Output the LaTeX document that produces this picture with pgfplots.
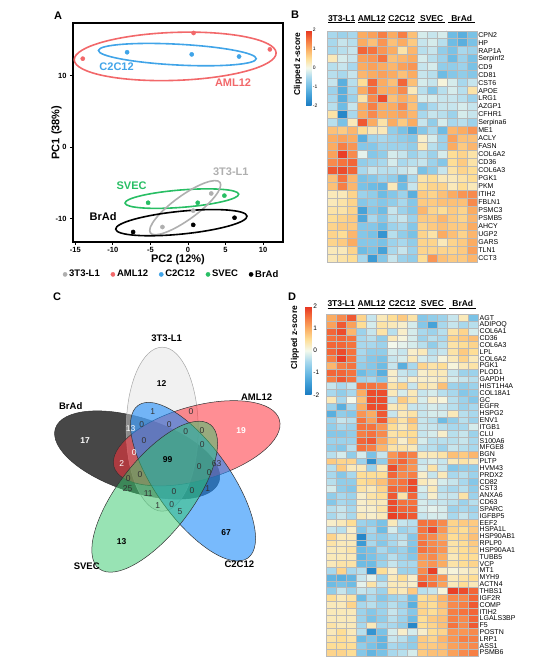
\documentclass[border=0pt]{standalone}
\usepackage{fontspec}
\setmainfont{Liberation Sans}
\usepackage{pgfplots}
\usepackage{pgfplotstable}
\pgfplotsset{compat=1.18}
\definecolor{cgrey}{RGB}{175,175,175}
\definecolor{cred}{RGB}{242,104,106}
\definecolor{cblue}{RGB}{64,164,232}
\definecolor{cgreen}{RGB}{40,190,100}
\pgfplotsset{
  /pgf/number format/assume math mode=true,
  hmap/.style={colormap={hm}{rgb255=(25,122,192) rgb255=(60,155,213) rgb255=(110,188,228) rgb255=(168,216,237) rgb255=(244,249,236) rgb255=(254,222,150) rgb255=(251,172,98) rgb255=(245,115,62) rgb255=(230,50,32)}, point meta min=-2, point meta max=2},
}
\pgfplotstableread{
g c0 c1 c2 c3 c4 c5 c6 c7 c8 c9 c10 c11 c12 c13 c14
CPN2 -0.5 -0.6 -0.5 1.0 1.1 1.4 1.0 1.4 0.8 -0.2 -0.3 -0.2 -1.0 -1.2 -0.9
HP -0.5 -0.3 -0.4 1.0 0.8 1.2 0.8 1.0 0.7 -0.3 -0.2 -0.4 -1.0 -1.2 -0.9
RAP1A -0.5 -0.4 -0.3 1.6 1.5 1.2 1.0 0.4 0.9 -0.4 -0.3 -0.7 -0.9 -0.5 -0.6
Serpinf2 0.3 -0.2 -0.3 1.1 1.2 1.5 0.8 0.9 1.0 -0.2 -0.4 -0.6 -1.0 -0.6 -0.9
CD9 -0.4 -0.3 -0.5 1.0 1.1 1.0 0.9 1.1 1.2 -0.3 -0.2 -0.7 -0.7 -0.6 -0.9
CD81 -0.4 -0.5 -0.3 0.9 1.0 1.1 1.0 0.8 1.0 -0.3 -0.4 -1.0 -0.8 -0.7 -0.8
CST6 -0.3 -1.2 -0.4 0.5 1.6 1.0 0.8 1.6 0.8 -0.2 -0.3 0.1 -0.2 -0.5 -0.3
APOE -0.6 -1.2 -0.5 1.0 1.5 1.0 1.0 1.3 0.3 -0.4 -0.8 -0.4 -0.2 -0.4 0.4
LRG1 -0.5 -1.2 -0.6 0.4 1.3 1.8 0.8 1.0 0.8 -0.2 -0.2 -0.3 -0.3 -0.4 -0.6
AZGP1 -0.4 -1.0 -0.3 1.0 1.4 1.0 1.0 1.3 0.8 -0.8 -0.5 -0.3 -0.3 -0.2 -0.3
CFHR1 0.4 -1.8 -0.5 1.0 1.3 1.0 1.0 1.1 0.9 -0.5 -0.3 -0.4 -0.6 -0.2 -0.3
Serpina6 -0.4 -0.9 0.3 1.7 1.0 0.4 1.0 0.7 1.0 -0.3 -0.7 -0.2 -0.5 -0.4 -0.6
ME1 0.8 0.7 0.9 0.5 0.3 0.3 -0.7 -0.9 -1.3 -0.8 -0.5 -1.0 0.9 1.0 1.2
ACLY 1.0 1.1 1.0 -1.2 -0.6 -0.5 -0.6 -0.7 -0.8 0.2 -0.2 -0.6 1.1 0.8 0.8
FASN 1.0 1.4 1.2 -0.8 -0.8 -0.6 -0.6 -0.6 -0.7 0.3 -0.4 -0.6 1.0 0.7 0.9
COL6A2 1.1 1.9 1.3 -0.1 -0.8 -0.7 -0.2 -0.3 -0.6 -0.4 -0.6 -0.2 0.5 0.6 0.4
CD36 1.3 1.5 1.6 -0.7 -0.6 -0.5 -0.2 -0.5 -0.4 -0.3 -0.6 -0.8 0.5 0.7 0.4
COL6A3 1.7 1.8 1.6 -0.5 -0.3 -0.4 -0.4 -0.3 -0.2 -0.9 -0.7 -0.3 0.4 0.6 0.5
PGK1 0.8 1.5 0.9 -0.9 -0.8 -0.6 -0.7 -1.1 -0.5 0.4 0.5 0.3 0.3 0.4 0.5
PKM 0.8 1.4 0.9 -0.9 -1.0 -1.1 0.3 -1.0 -0.3 0.5 0.6 0.6 0.3 0.5 0.3
ITIH2 0.3 0.3 0.6 -0.6 -0.7 -1.0 -0.8 -0.6 -1.2 0.7 0.6 0.8 1.0 1.2 1.3
FBLN1 0.3 0.4 0.6 -0.8 -0.7 -0.8 -0.7 -0.5 -0.8 0.7 0.7 0.8 0.8 0.8 1.3
PSMC3 0.4 0.4 0.6 -1.4 -0.8 -1.0 -0.3 -0.6 -0.8 0.9 0.6 0.5 0.7 0.6 1.0
PSMB5 0.5 0.6 0.7 -1.3 -0.5 -0.8 -0.4 -0.3 -0.6 0.7 0.7 0.9 0.7 0.6 0.9
AHCY 0.6 0.7 0.7 -0.8 -0.8 -1.0 -0.6 -0.5 -0.8 0.6 0.7 0.8 0.7 0.7 1.0
UGP2 0.6 0.5 0.9 -0.8 -0.9 -1.6 -0.4 -0.7 -0.9 0.6 0.4 1.0 0.8 0.6 0.9
GARS 0.6 0.7 1.0 -0.8 -0.8 -0.9 -0.6 -0.5 -0.7 0.6 0.6 0.3 0.6 0.7 1.0
TLN1 0.3 0.3 0.6 -1.0 -0.9 -1.4 -0.5 -0.3 -0.6 0.6 0.6 0.6 0.6 0.7 1.1
CCT3 0.3 0.4 0.5 -0.5 -1.5 -0.8 -0.3 -0.6 -0.7 0.5 1.2 0.8 0.7 0.7 0.9
}\tabB
\pgfplotstableread{
g c0 c1 c2 c3 c4 c5 c6 c7 c8 c9 c10 c11 c12 c13 c14
AGT 1.0 1.3 1.7 0.6 -0.3 0.3 0.5 0.7 0.4 -0.8 -0.7 -0.6 -0.3 0.3 -0.9
ADIPOQ 1.1 1.7 1.1 0.5 -0.2 0.4 0.3 0.2 -0.2 -0.8 -1.4 -0.5 -0.3 -0.5 -0.4
COL6A1 1.6 1.8 0.9 -0.6 -0.3 0.4 -0.4 0.2 -0.2 -0.5 -0.6 -0.4 0.4 0.6 -0.2
CD36 1.5 1.6 1.5 -0.5 -0.4 -0.7 0.3 0.1 -0.2 -0.6 -0.4 -0.5 0.6 0.7 0.8
COL6A3 1.6 1.6 1.5 -0.5 -0.5 -0.6 0.0 -0.1 -0.2 -0.4 -0.7 -0.4 0.4 0.5 0.6
LPL 1.6 1.8 1.5 -0.5 -0.7 -0.7 -0.2 -0.3 0.2 0.3 -0.4 -0.3 0.4 0.7 0.5
COL6A2 1.4 1.9 1.5 -0.6 -0.8 -0.9 -0.3 -0.2 0.3 -0.2 -0.3 0.1 0.3 0.6 0.3
PGK1 0.9 1.4 1.5 -0.7 -0.8 -1.0 -0.3 -1.2 -0.5 0.6 0.4 0.5 0.1 0.3 0.4
PLOD1 1.6 1.6 1.5 -1.0 -0.8 -1.2 0.2 -0.3 -0.4 0.2 0.3 0.3 -0.3 -0.6 -0.6
GAPDH 1.4 1.7 1.5 -0.6 -0.5 -0.8 0.2 -0.2 0.2 0.2 0.2 0.3 -0.2 -0.3 -0.4
HIST1H4A -0.3 -0.5 -0.3 1.5 1.5 1.4 0.4 0.6 -0.3 0.4 0.3 0.8 -0.6 -0.7 -0.6
COL18A1 -0.5 -0.7 -0.5 1.0 1.8 1.8 0.3 -0.2 0.3 -0.3 -0.2 -0.4 -0.5 -0.8 -0.7
GC 0.3 -0.5 0.0 0.8 1.8 1.8 -0.3 0.7 0.4 -0.2 0.2 0.1 -0.4 -0.6 -0.8
EGFR -0.6 -1.2 -0.5 1.0 1.8 1.8 0.3 0.4 -0.3 -0.3 -0.2 -0.3 -0.4 -0.6 -0.5
HSPG2 -1.2 -0.7 -0.8 1.2 1.0 1.7 -0.3 0.3 0.4 -0.3 -0.2 -0.2 0.3 -0.4 -0.5
ENV1 -0.6 -0.3 -0.4 1.5 1.1 1.7 0.7 0.4 0.8 -0.3 -0.4 -1.0 -0.7 -0.4 -0.6
ITGB1 -0.7 -0.5 -0.6 1.5 1.5 1.2 0.5 0.3 0.6 -0.3 -0.3 -0.4 -0.5 -0.5 -0.2
CLU -0.8 -0.8 -0.7 1.4 1.5 1.3 0.4 0.5 0.5 -0.3 -0.2 0.2 -0.4 -0.3 -0.6
S100A6 -0.6 -0.6 -0.6 1.6 1.7 1.1 0.6 0.2 0.6 -0.2 -0.4 -0.4 -0.4 -0.3 -0.5
MFGE8 -0.7 -0.8 -0.4 1.5 1.4 0.9 0.4 0.4 0.3 -0.4 -0.4 -0.6 -0.3 -0.4 -0.5
BGN -0.4 -0.2 -0.7 -0.2 -0.9 -0.3 1.2 1.5 1.4 0.3 0.3 0.4 0.8 0.7 0.9
PLTP 0.7 0.6 0.6 -0.6 -1.7 -0.7 1.4 1.6 1.3 -0.3 -0.2 -0.3 0.3 0.4 0.3
HVM43 -0.4 0.7 0.3 0.3 -0.6 0.3 1.8 1.4 1.2 -0.2 0.4 -0.3 -0.8 -0.7 -0.7
PRDX2 -0.5 -0.8 -0.5 0.5 0.5 0.5 1.6 1.3 1.4 0.2 -0.3 0.3 -0.5 -0.4 -0.6
CD82 -0.4 -0.7 -0.7 0.5 0.6 0.8 1.4 1.5 1.8 0.3 0.2 -0.2 -0.3 -0.5 -0.8
CST3 -0.2 -0.7 -0.8 0.4 0.3 0.6 1.6 1.5 1.8 -0.2 0.3 -0.4 -0.5 -0.4 -0.7
ANXA6 -0.7 -0.5 -0.6 0.2 0.4 0.5 1.7 0.4 1.6 -0.3 0.2 -0.3 -0.3 0.4 -0.6
CD63 -0.8 -0.5 -0.6 0.2 0.3 0.3 1.8 1.5 1.5 -0.2 -0.3 -0.3 -0.4 -0.6 -0.4
SPARC -0.4 -0.3 -0.5 0.2 0.2 0.4 1.8 1.6 1.6 -0.2 -0.1 -0.2 -0.6 -0.5 -0.6
IGFBP5 -0.5 -0.3 -0.5 0.3 0.2 0.3 1.9 1.8 1.7 -0.3 -0.2 -0.2 -0.5 -0.3 -0.5
EEF2 0.2 0.3 0.5 -0.6 -0.7 -0.9 0.3 -0.3 -0.4 1.5 1.5 1.3 0.6 0.7 0.7
HSPA1L -0.3 -0.4 0.2 -0.8 -0.5 -1.0 -0.2 -0.6 -0.5 1.5 1.8 1.2 0.6 0.5 0.7
HSP90AB1 0.6 0.3 0.3 -1.8 -0.6 -0.7 -0.5 -0.4 -0.8 1.4 1.3 1.0 0.5 0.6 0.8
RPLP0 0.4 0.3 0.3 -1.5 -0.5 -0.8 -0.5 -0.3 -0.8 1.5 1.3 1.2 0.4 0.5 0.7
HSP90AA1 0.3 0.3 0.4 -1.0 -0.9 -0.5 -0.7 -0.6 -0.9 1.5 1.4 1.2 0.4 0.5 0.6
TUBB5 0.3 0.3 0.3 -1.1 -0.9 -0.7 -0.4 -0.6 -0.8 1.2 1.3 1.0 0.3 0.5 0.5
VCP 0.3 0.4 0.4 -1.0 -1.0 -0.6 -0.3 -0.5 -0.5 1.1 1.2 1.0 0.4 0.5 0.6
MT1 -0.5 0.6 -0.5 -0.4 -1.8 0.5 0.2 -0.6 -0.6 1.3 1.9 0.2 0.1 0.2 0.3
MYH9 -1.1 -1.2 -1.1 -0.3 -0.1 -0.6 0.3 0.5 0.2 1.5 1.4 1.2 0.3 0.4 0.5
ACTN4 -1.0 -0.9 -1.0 -0.1 0.4 -0.3 0.3 0.3 0.2 1.8 1.5 1.1 0.3 0.5 0.3
THBS1 -0.7 -0.3 -0.6 -0.3 -0.4 -0.6 0.4 0.3 0.7 -0.4 -0.3 0.1 1.9 1.8 1.6
IGF2R 0.5 0.3 0.4 -1.0 -0.5 -0.8 -0.6 -0.5 -1.0 0.5 0.6 0.9 1.3 1.3 1.6
COMP 0.3 0.3 0.6 -0.5 -0.4 -0.6 -0.4 -0.6 -1.2 0.6 0.5 0.8 1.3 1.4 1.7
ITIH2 0.3 0.3 0.3 -0.6 -0.8 -0.6 -0.3 -0.5 -0.8 0.6 0.5 0.7 1.4 1.5 1.6
LGALS3BP 0.3 0.3 0.3 -0.6 -0.9 -0.7 -0.4 -0.6 -1.0 0.5 0.7 0.8 1.4 1.3 1.6
F5 0.4 0.3 0.3 -0.5 0.3 -0.5 -0.5 -0.7 -1.8 0.5 0.6 0.8 1.5 1.3 1.7
POSTN 0.3 0.5 0.3 -0.4 -1.6 -0.9 -0.2 0.2 -0.2 0.2 0.5 0.6 1.2 1.2 1.3
LRP1 0.4 0.5 0.4 -1.0 -0.8 -1.1 -0.3 -0.4 -0.7 0.7 0.6 0.9 1.2 1.4 1.4
ASS1 0.5 0.5 0.5 -0.7 -0.9 -1.1 -0.5 -0.6 -0.7 0.7 0.7 0.8 1.1 1.2 1.3
PSMB6 0.6 0.6 0.5 -0.8 -1.1 -0.9 -0.5 -0.4 -0.2 0.7 0.8 0.8 1.1 1.3 1.4
}\tabD
\begin{document}
\begin{tikzpicture}
\useasboundingbox (0,0) rectangle (544pt,666pt);
% panel letters
\node[font=\bfseries\fontsize{11}{12}\selectfont] at (58pt,650pt) {A};
\node[font=\bfseries\fontsize{11}{12}\selectfont] at (295pt,651pt) {B};
\node[font=\bfseries\fontsize{11}{12}\selectfont] at (57pt,369pt) {C};
\node[font=\bfseries\fontsize{11}{12}\selectfont] at (292pt,369pt) {D};
\node[font=\bfseries\fontsize{8.5}{9}\selectfont, rotate=90] at (298pt,602pt) {Clipped z-score};
\node[font=\bfseries\fontsize{8.5}{9}\selectfont, rotate=90] at (295pt,328.5pt) {Clipped z-score};

% ---------------- Panel A ----------------
\begin{axis}[at={(73pt,424pt)}, anchor=south west, scale only axis, width=210pt, height=219pt,
  xmin=-15.3, xmax=12.65, ymin=-13.3, ymax=17.4,
  xtick={-15,-10,...,10}, ytick={-10,0,10},
  tick align=outside, major tick length=3pt, xtick pos=bottom, ytick pos=left,
  axis line style={line width=1.3pt}, tick style={line width=0.8pt, black},
  ticklabel style={font=\bfseries\fontsize{7.5}{8}\selectfont},
  xticklabel style={yshift=1.5pt},
  xlabel={PC2 (12\%)}, ylabel={PC1 (38\%)},
  label style={font=\bfseries\fontsize{11}{12}\selectfont},
  xlabel style={at={(axis description cs:0.5,-0.08)}, anchor=center},
  ylabel style={at={(axis description cs:-0.078,0.5)}, anchor=center},
  legend columns=5,
  legend style={at={(axis description cs:0.47,-0.148)}, anchor=center, draw=none, fill=none,
    font=\bfseries\fontsize{9.5}{10}\selectfont, /tikz/every even column/.append style={column sep=9pt}},
  clip=false]
\draw[cred, line width=1.6pt, rotate around={2:(axis cs:-1.70,12.72)}] (axis cs:-1.70,12.72) ellipse [x radius=101pt, y radius=24pt];
\draw[cblue, line width=1.6pt, rotate around={-3:(axis cs:-1.41,12.97)}] (axis cs:-1.41,12.97) ellipse [x radius=79pt, y radius=10.4pt];
\draw[cgreen, line width=1.6pt, rotate around={4.5:(axis cs:-0.81,-7.22)}] (axis cs:-0.81,-7.22) ellipse [x radius=57pt, y radius=8.7pt];
\draw[cgrey, line width=1.6pt, rotate around={36:(axis cs:-0.37,-8.49)}] (axis cs:-0.37,-8.49) ellipse [x radius=43pt, y radius=12pt];
\draw[black, line width=1.6pt, rotate around={5.7:(axis cs:-0.88,-10.59)}] (axis cs:-0.88,-10.59) ellipse [x radius=66pt, y radius=11.4pt];
\addplot[only marks, mark=*, mark size=2.1pt, color=cgrey] coordinates {(3.1,-6.5) (0.7,-8.9) (-3.4,-11.2)};
\addlegendentry{3T3-L1}
\addplot[only marks, mark=*, mark size=2.1pt, color=cred] coordinates {(-14.0,12.4) (0.75,16.0) (10.9,13.7)};
\addlegendentry{AML12}
\addplot[only marks, mark=*, mark size=2.1pt, color=cblue] coordinates {(-8.1,13.3) (0.5,13.0) (6.8,12.7)};
\addlegendentry{C2C12}
\addplot[only marks, mark=*, mark size=2.1pt, color=cgreen] coordinates {(-5.3,-7.8) (1.3,-7.8) (4.85,-6.8)};
\addlegendentry{SVEC}
\addplot[only marks, mark=*, mark size=2.1pt, color=black] coordinates {(-7.3,-11.9) (0.7,-10.9) (6.2,-9.9)};
\addlegendentry{BrAd}
\node[font=\bfseries\fontsize{11}{12}\selectfont, text=cblue] at (axis cs:-9.5,11.3) {C2C12};
\node[font=\bfseries\fontsize{11}{12}\selectfont, text=cred] at (axis cs:6.0,9.1) {AML12};
\node[font=\bfseries\fontsize{11}{12}\selectfont, text=cgrey] at (axis cs:5.7,-3.5) {3T3-L1};
\node[font=\bfseries\fontsize{11}{12}\selectfont, text=cgreen] at (axis cs:-7.5,-5.4) {SVEC};
\node[font=\bfseries\fontsize{11}{12}\selectfont, text=black] at (axis cs:-11.3,-9.8) {BrAd};
\end{axis}

% ---------------- Panel B ----------------
\begin{axis}[at={(326.7pt,403.7pt)}, anchor=south west, scale only axis, width=150pt, height=231.6pt,
  xmin=-0.5, xmax=14.5, ymin=-0.5, ymax=28.5, y dir=reverse, hmap,
  axis line style={draw=none}, xtick=\empty, ytick={0,1,...,28}, yticklabel pos=right,
  yticklabels from table={\tabB}{g}, major tick length=0pt,
  yticklabel style={font=\fontsize{7}{7}\selectfont, inner sep=1.5pt, anchor=west},
  clip=false,
  colorbar,
  colorbar shift/.style={xshift=-20.7pt, yshift=0.7pt},
  colorbar style={at={(parent axis.north west)}, anchor=north west,
    scale only axis, width=5.7pt, height=76pt, y dir=normal, ytick={-2,-1,0,1,2}, yticklabel pos=right,
    axis line style={draw=none}, major tick length=0pt,
    yticklabel style={font=\fontsize{5}{5}\selectfont, inner sep=1pt, anchor=west}}]
\pgfplotsinvokeforeach{0,...,14}{
\addplot[scatter, only marks, mark=square*, mark size=5pt, point meta=explicit,
  scatter/use mapped color={draw=gray!55, fill=mapped color},
  mark options={yscale=0.8, line width=0.35pt}]
  table[x expr=#1, y expr=\coordindex, meta=c#1] {\tabB};
}
\draw[line width=1.2pt] (axis cs:2.5,-0.5) -- (axis cs:2.5,28.5);
\draw[line width=1.2pt] (axis cs:5.5,-0.5) -- (axis cs:5.5,28.5);
\draw[line width=1.2pt] (axis cs:8.5,-0.5) -- (axis cs:8.5,28.5);
\draw[line width=1.2pt] (axis cs:11.5,-0.5) -- (axis cs:11.5,28.5);
\node[font=\bfseries\fontsize{8.5}{9}\selectfont] at (axis cs:1,-2.05) {3T3-L1};
\node[font=\bfseries\fontsize{8.5}{9}\selectfont] at (axis cs:4,-2.05) {AML12};
\node[font=\bfseries\fontsize{8.5}{9}\selectfont] at (axis cs:7,-2.05) {C2C12};
\node[font=\bfseries\fontsize{8.5}{9}\selectfont] at (axis cs:10,-2.05) {SVEC};
\node[font=\bfseries\fontsize{8.5}{9}\selectfont] at (axis cs:13,-2.05) {BrAd};
\draw[line width=0.9pt] (axis cs:-0.35,-1.5) -- (axis cs:2.35,-1.5);
\draw[line width=0.9pt] (axis cs:2.65,-1.5) -- (axis cs:5.35,-1.5);
\draw[line width=0.9pt] (axis cs:5.65,-1.5) -- (axis cs:8.35,-1.5);
\draw[line width=0.9pt] (axis cs:8.65,-1.5) -- (axis cs:11.35,-1.5);
\draw[line width=0.9pt] (axis cs:11.65,-1.5) -- (axis cs:14.35,-1.5);
\end{axis}

% ---------------- Panel D ----------------
\begin{axis}[at={(326pt,10pt)}, anchor=south west, scale only axis, width=152pt, height=341.7pt,
  xmin=-0.5, xmax=14.5, ymin=-0.5, ymax=49.5, y dir=reverse, hmap,
  axis line style={draw=none}, xtick=\empty, ytick={0,1,...,49}, yticklabel pos=right,
  yticklabels from table={\tabD}{g}, major tick length=0pt,
  yticklabel style={font=\fontsize{7}{7}\selectfont, inner sep=1.5pt, anchor=west},
  clip=false,
  colorbar,
  colorbar shift/.style={xshift=-21pt, yshift=8.3pt},
  colorbar style={at={(parent axis.north west)}, anchor=north west,
    scale only axis, width=6.7pt, height=89pt, y dir=normal, ytick={-2,-1,0,1,2}, yticklabel pos=right,
    axis line style={draw=none}, major tick length=0pt,
    yticklabel style={font=\fontsize{6.5}{7}\selectfont, inner sep=1.5pt, anchor=west}}]
\pgfplotsinvokeforeach{0,...,14}{
\addplot[scatter, only marks, mark=square*, mark size=5.07pt, point meta=explicit,
  scatter/use mapped color={draw=gray!55, fill=mapped color},
  mark options={yscale=0.6746, line width=0.35pt}]
  table[x expr=#1, y expr=\coordindex, meta=c#1] {\tabD};
}
\draw[line width=1.2pt] (axis cs:2.5,-0.5) -- (axis cs:2.5,49.5);
\draw[line width=1.2pt] (axis cs:5.5,-0.5) -- (axis cs:5.5,49.5);
\draw[line width=1.2pt] (axis cs:8.5,-0.5) -- (axis cs:8.5,49.5);
\draw[line width=1.2pt] (axis cs:11.5,-0.5) -- (axis cs:11.5,49.5);
\node[font=\bfseries\fontsize{8.5}{9}\selectfont] at (axis cs:1,-2.11) {3T3-L1};
\node[font=\bfseries\fontsize{8.5}{9}\selectfont] at (axis cs:4,-2.11) {AML12};
\node[font=\bfseries\fontsize{8.5}{9}\selectfont] at (axis cs:7,-2.11) {C2C12};
\node[font=\bfseries\fontsize{8.5}{9}\selectfont] at (axis cs:10,-2.11) {SVEC};
\node[font=\bfseries\fontsize{8.5}{9}\selectfont] at (axis cs:13,-2.11) {BrAd};
\draw[line width=0.9pt] (axis cs:-0.35,-1.3) -- (axis cs:2.35,-1.3);
\draw[line width=0.9pt] (axis cs:2.65,-1.3) -- (axis cs:5.35,-1.3);
\draw[line width=0.9pt] (axis cs:5.65,-1.3) -- (axis cs:8.35,-1.3);
\draw[line width=0.9pt] (axis cs:8.65,-1.3) -- (axis cs:11.35,-1.3);
\draw[line width=0.9pt] (axis cs:11.65,-1.3) -- (axis cs:14.35,-1.3);
\end{axis}

% ---------------- Panel C (Venn) ----------------
\begin{axis}[at={(0pt,86pt)}, anchor=south west, scale only axis, width=280pt, height=300pt,
  xmin=0, xmax=280, ymin=-580, ymax=-280, hide axis, clip=false]
\draw[black!80, line width=0.5pt, fill=black, fill opacity=0.72, rotate around={-18:(axis cs:137.2,-455)}] (axis cs:137.2,-455) ellipse [x radius=86pt, y radius=37pt];
\draw[black!35, line width=0.5pt, fill=black!12, fill opacity=0.45] (axis cs:162.2,-429.2) ellipse [x radius=36pt, y radius=82pt];
\draw[black!80, line width=0.5pt, fill={rgb,255:red,255;green,50;blue,60}, fill opacity=0.55, rotate around={15.8:(axis cs:196.7,-443.3)}] (axis cs:196.7,-443.3) ellipse [x radius=86pt, y radius=37pt];
\draw[black!80, line width=0.5pt, fill={rgb,255:red,30;green,140;blue,250}, fill opacity=0.6, rotate around={-54.3:(axis cs:193,-481.7)}] (axis cs:193,-481.7) ellipse [x radius=94pt, y radius=37pt];
\draw[black!80, line width=0.5pt, fill={rgb,255:red,50;green,200;blue,105}, fill opacity=0.5, rotate around={52.3:(axis cs:154.7,-496.7)}] (axis cs:154.7,-496.7) ellipse [x radius=91pt, y radius=37pt];
\begin{scope}[every node/.style={font=\bfseries\fontsize{9.5}{10}\selectfont}]
\node at (axis cs:166.7,-338.3) {3T3-L1};
\node at (axis cs:256.7,-396.7) {AML12};
\node at (axis cs:70.7,-406) {BrAd};
\node at (axis cs:86.7,-566.7) {SVEC};
\node at (axis cs:239.3,-564.3) {C2C12};
\end{scope}
\begin{scope}[every node/.style={font=\fontsize{8.5}{9}\selectfont, text=black!80}]
\node at (axis cs:152.7,-412) {1};
\node at (axis cs:191,-412) {0};
\node at (axis cs:141.7,-425) {0};
\node at (axis cs:169.3,-424.3) {0};
\node at (axis cs:185.7,-431.7) {0};
\node at (axis cs:202,-430.7) {0};
\node at (axis cs:144,-441) {0};
\node at (axis cs:202.3,-445) {0};
\node at (axis cs:199.3,-466.7) {0};
\node at (axis cs:216.7,-463.3) {63};
\node at (axis cs:209.3,-472.3) {0};
\node at (axis cs:140,-475) {0};
\node at (axis cs:128.3,-479) {0};
\node at (axis cs:127.7,-488.3) {25};
\node at (axis cs:148.3,-493.7) {11};
\node at (axis cs:174,-491.7) {0};
\node at (axis cs:192,-491) {0};
\node at (axis cs:207.7,-488.3) {1};
\node at (axis cs:157.7,-505.7) {1};
\node at (axis cs:171.7,-504.3) {0};
\node at (axis cs:180,-511.7) {5};
\node[text=white] at (axis cs:130.7,-429) {13};
\node[text=white] at (axis cs:134.3,-452.3) {0};
\node[text=white] at (axis cs:121.7,-464) {2};
\end{scope}
\begin{scope}[every node/.style={font=\bfseries\fontsize{8.5}{9}\selectfont}]
\node at (axis cs:161.7,-383.3) {12};
\node at (axis cs:167.7,-460) {99};
\node at (axis cs:226,-532.3) {67};
\node at (axis cs:121.7,-541.7) {13};
\node[text=white] at (axis cs:241,-430.7) {19};
\node[text=white] at (axis cs:85,-441) {17};
\end{scope}
\end{axis}
\end{tikzpicture}
\end{document}
